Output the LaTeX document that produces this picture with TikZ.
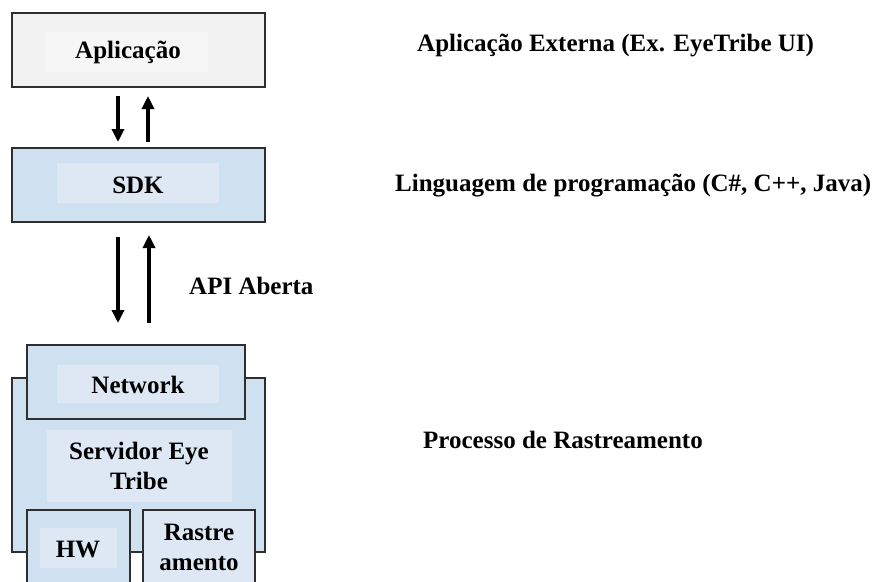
\documentclass[tikz,border=0pt]{standalone}
\usepackage{fontspec}
\setmainfont{Liberation Serif}
\usetikzlibrary{arrows.meta}
\definecolor{boxblue}{HTML}{CFE0F1}
\definecolor{innerblue}{HTML}{DDE8F4}
\definecolor{boxgray}{HTML}{F2F2F2}
\definecolor{innergray}{HTML}{F6F6F6}
\definecolor{edge}{HTML}{2E2E2E}
\tikzset{
  outerbox/.style={draw=edge, line width=2.6pt},
  lbl/.style={font=\bfseries\fontsize{25}{30}\selectfont, align=center, text=black, inner sep=0pt},
  sidelbl/.style={font=\bfseries\fontsize{25}{30}\selectfont, anchor=west, text=black, inner sep=0pt},
  flow/.style={line width=3.4pt, -{Triangle[length=13pt,width=12pt]}}
}
\begin{document}
\begin{tikzpicture}[x=1pt,y=-1pt]
\useasboundingbox (0,0) rectangle (875,581);
% Aplicacao
\fill[outerbox, fill=boxgray] (12,13) rectangle (265,87);
\fill[innergray] (45,32) rectangle (208,72);
\node[lbl] (app) at (128,52) {Aplicação};
% SDK
\fill[outerbox, fill=boxblue] (12,148) rectangle (265,222);
\fill[innerblue] (57,163) rectangle (219,203);
\node[lbl] (sdk) at (138,185) {SDK};
% arrows app-sdk
\coordinate (a1) at (118,96); \coordinate (a2) at (118,142);
\coordinate (b1) at (148,142); \coordinate (b2) at (148,96);
\draw[flow] (a1) -- (a2);
\draw[flow] (b1) -- (b2);
% arrows sdk-network
\coordinate (c1) at (118,237); \coordinate (c2) at (118,323);
\coordinate (d1) at (149,323); \coordinate (d2) at (149,235);
\draw[flow] (c1) -- (c2);
\draw[flow] (d1) -- (d2);
\node[sidelbl] (api) at (189,286) {API Aberta};
% Servidor outer
\fill[outerbox, fill=boxblue] (12,378) rectangle (265,552);
\fill[innerblue] (47,430) rectangle (232,502);
\node[lbl] (srv) at (139,466) {Servidor Eye\\Tribe};
% Network
\fill[outerbox, fill=boxblue] (27,345) rectangle (245,419);
\fill[innerblue] (57,365) rectangle (219,403);
\node[lbl] (net) at (138,385) {Network};
% HW
\fill[outerbox, fill=boxblue] (27,510) rectangle (130,590);
\fill[innerblue] (40,528) rectangle (117,568);
\node[lbl] (hw) at (78,549) {HW};
% Rastreamento
\fill[outerbox, fill=innerblue] (143,510) rectangle (255,590);
\node[lbl] (ras) at (199,547) {Rastre\\amento};
% side labels
\node[sidelbl] (t1) at (417,45) {Aplicação Externa (Ex. EyeTribe UI)};
\node[sidelbl] (t2) at (395,186) {Linguagem de programação (C\#, C++, Java)};
\node[sidelbl] (t3) at (423,440) {Processo de Rastreamento};
\end{tikzpicture}
\end{document}
